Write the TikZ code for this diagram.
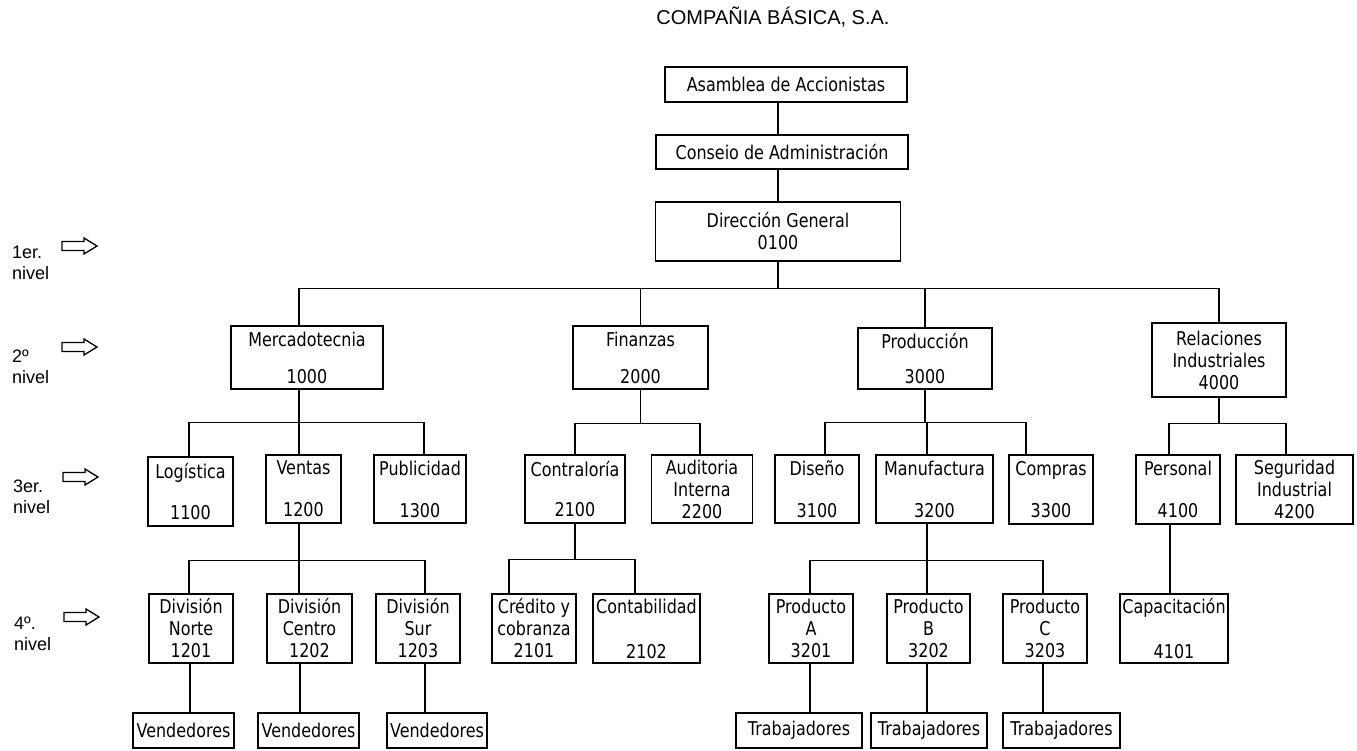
\documentclass[tikz,border=0pt]{standalone}
\usepackage{fontspec}
\usetikzlibrary{calc}
\newfontfamily\boxfont[FakeStretch=0.84]{DejaVu Sans}
\newfontfamily\labelfont{Liberation Sans}
\tikzset{
  orgbox/.style={draw, line width=1.4pt, inner sep=0pt, align=center,
    font=\boxfont\fontsize{19}{22}\selectfont, text=black},
  link/.style={line width=1.4pt},
  levelarrow/.style={draw, line width=1.3pt, line join=miter},
  leveltext/.style={anchor=north west, align=left, inner sep=0pt,
    font=\labelfont\fontsize{18}{21}\selectfont, text=black},
}
% hollow block arrow pointing right, centred on a named coordinate
\newcommand\hollowarrow[1]{\draw[levelarrow] (#1) ++(-17.5,-4.5) -- ++(22,0) -- ++(0,-3.5)
  -- ++(13,8) -- ++(-13,8) -- ++(0,-3.5) -- ++(-22,0) -- cycle;}

\begin{document}
\begin{tikzpicture}[x=1pt,y=-1pt]
\fill[white] (0,0) rectangle (1357,750);
\useasboundingbox (0,0) rectangle (1357,750);

% title
\node[anchor=base, inner sep=0pt, font=\labelfont\fontsize{20}{24}\selectfont, text=black]
  (title) at (773,24) {COMPAÑIA BÁSICA, S.A.};

% level markers
\node[leveltext] (l1) at (12,246) {1er.\\nivel};
\node[leveltext] (l2) at (12,350) {2º\\nivel};
\node[leveltext] (l3) at (13,480) {3er.\\nivel};
\node[leveltext] (l4) at (14,617) {4º.\\nivel};
\coordinate (a1) at (79.5,246);
\coordinate (a2) at (79.5,347);
\coordinate (a3) at (80.5,477);
\coordinate (a4) at (81.5,617);
\hollowarrow{a1}
\hollowarrow{a2}
\hollowarrow{a3}
\hollowarrow{a4}

% top of the organisation
\node[orgbox, minimum width=242, minimum height=35] (asam) at (786,84.5) {Asamblea de Accionistas};
\node[orgbox, minimum width=252, minimum height=34] (cons) at (782,152) {Conseio de Administración};
\node[orgbox, minimum width=245, minimum height=59] (dir) at (778,231.5) {Dirección General\\0100};

% second level
\node[orgbox, minimum width=152, minimum height=63] (merc) at (307,357.5) {Mercadotecnia\\[15pt]1000};
\node[orgbox, minimum width=135, minimum height=63] (fin) at (640.5,357.5) {Finanzas\\[15pt]2000};
\node[orgbox, minimum width=134, minimum height=61] (prod) at (925,358.5) {Producción\\[13pt]3000};
\node[orgbox, minimum width=134, minimum height=74] (rel) at (1219,360) {Relaciones\\Industriales\\4000};

% third level
\node[orgbox, minimum width=85, minimum height=69] (logi) at (190.5,491.5) {Logística\\[19pt]1100};
\node[orgbox, minimum width=75, minimum height=68] (vent) at (303.5,489) {Ventas\\[20pt]1200};
\node[orgbox, minimum width=92, minimum height=68] (publ) at (420,489) {Publicidad\\[20pt]1300};
\node[orgbox, minimum width=100, minimum height=68] (contr) at (575,489) {Contraloría\\[18pt]2100};
\node[orgbox, minimum width=101, minimum height=68] (audi) at (702,489) {Auditoria\\Interna\\2200};
\node[orgbox, minimum width=84, minimum height=68] (dise) at (817,489) {Diseño\\[20pt]3100};
\node[orgbox, minimum width=117, minimum height=68] (manu) at (934.5,489) {Manufactura\\[20pt]3200};
\node[orgbox, minimum width=84, minimum height=69] (comp) at (1051,489.5) {Compras\\[20pt]3300};
\node[orgbox, minimum width=84, minimum height=69] (pers) at (1178,489.5) {Personal\\[20pt]4100};
\node[orgbox, minimum width=117, minimum height=69] (segu) at (1294.5,489.5) {Seguridad\\Industrial\\4200};

% fourth level
\node[orgbox, minimum width=84, minimum height=69] (dnor) at (191,628.5) {División\\Norte\\1201};
\node[orgbox, minimum width=85, minimum height=69] (dcen) at (309.5,628.5) {División\\Centro\\1202};
\node[orgbox, minimum width=84, minimum height=69] (dsur) at (418,628.5) {División\\Sur\\1203};
\node[orgbox, minimum width=84, minimum height=69] (cred) at (534,628.5) {Crédito y\\cobranza\\2101};
\node[orgbox, minimum width=107, minimum height=69] (cont) at (646.5,628.5) {Contabilidad\\[23pt]2102};
\node[orgbox, minimum width=84, minimum height=69] (pa) at (811,628.5) {Producto\\A\\3201};
\node[orgbox, minimum width=83, minimum height=69] (pb) at (928.5,628.5) {Producto\\B\\3202};
\node[orgbox, minimum width=84, minimum height=69] (pc) at (1045,628.5) {Producto\\C\\3203};
\node[orgbox, minimum width=108, minimum height=69] (capa) at (1174,628.5) {Capacitación\\[23pt]4101};

% staff
\node[orgbox, minimum width=101, minimum height=35] (v1) at (183.5,730.5) {Vendedores};
\node[orgbox, minimum width=101, minimum height=35] (v2) at (308.5,730.5) {Vendedores};
\node[orgbox, minimum width=100, minimum height=35] (v3) at (437,730.5) {Vendedores};
\node[orgbox, minimum width=126, minimum height=35] (t1) at (799,730.5) {Trabajadores};
\node[orgbox, minimum width=116, minimum height=35] (t2) at (929,730.5) {Trabajadores};
\node[orgbox, minimum width=117, minimum height=35] (t3) at (1061.5,730.5) {Trabajadores};

% connectors: top chain
\draw[link] (dir.north) -- (dir.north |- cons.south);
\draw[link] (dir.north |- cons.north) -- (dir.north |- asam.south);

% general management to departments
\coordinate (b1) at ($(dir.south)+(0,27)$);
\draw[link] (dir.south) -- (b1);
\draw[link] ([xshift=-8]merc.north) |- (rel.north |- b1) -- (rel.north);
\draw[link] (fin.north) -- (fin.north |- b1);
\draw[link] (prod.north) -- (prod.north |- b1);

% marketing
\coordinate (bm) at ($([xshift=-8]merc.south)+(0,33)$);
\draw[link] ([xshift=-8]merc.south) -- (bm);
\draw[link] ([xshift=-1.5]logi.north) |- ([xshift=4]publ.north |- bm) -- ([xshift=4]publ.north);
\draw[link] ([xshift=-4.5]vent.north) -- ([xshift=-4.5]vent.north |- bm);

% finance
\coordinate (bf) at ($(fin.south)+(0,34)$);
\draw[link] (fin.south) -- (bf);
\draw[link] (contr.north) |- ([xshift=-2]audi.north |- bf) -- ([xshift=-2]audi.north);

% production
\coordinate (bp) at ($(prod.south)+(0,33)$);
\draw[link] (prod.south) -- (bp);
\draw[link] ([xshift=8]dise.north) |- ([xshift=-25]comp.north |- bp) -- ([xshift=-25]comp.north);
\draw[link] ([xshift=-7.5]manu.north) -- ([xshift=-7.5]manu.north |- bp);

% industrial relations
\coordinate (br) at ($(rel.south)+(0,26)$);
\draw[link] (rel.south) -- (br);
\draw[link] ([xshift=-9]pers.north) |- ([xshift=-8.5]segu.north |- br) -- ([xshift=-8.5]segu.north);

% sales divisions
\coordinate (bv) at ($([xshift=-4.5]vent.south)+(0,37)$);
\draw[link] ([xshift=-4.5]vent.south) -- (bv);
\draw[link] ([xshift=-2]dnor.north) |- ([xshift=7]dsur.north |- bv) -- ([xshift=7]dsur.north);
\draw[link] ([xshift=-10.5]dcen.north) -- ([xshift=-10.5]dcen.north |- bv);

% comptroller
\coordinate (bc) at ($(contr.south)+(0,36)$);
\draw[link] (contr.south) -- (bc);
\draw[link] ([xshift=-25]cred.north) |- ([xshift=-11.5]cont.north |- bc) -- ([xshift=-11.5]cont.north);

% manufacturing
\coordinate (bn) at ($([xshift=-7.5]manu.south)+(0,37)$);
\draw[link] ([xshift=-7.5]manu.south) -- (bn);
\draw[link] ([xshift=-1]pa.north) |- ([xshift=-2]pc.north |- bn) -- ([xshift=-2]pc.north);
\draw[link] ([xshift=-1.5]pb.north) -- ([xshift=-1.5]pb.north |- bn);

% personnel
\draw[link] ([xshift=-8]pers.south) -- ([xshift=-8]pers.south |- capa.north);

% staff links
\draw[link] ([xshift=-1]dnor.south) -- ([xshift=-1]dnor.south |- v1.north);
\draw[link] ([xshift=-9.5]dcen.south) -- ([xshift=-9.5]dcen.south |- v2.north);
\draw[link] ([xshift=7]dsur.south) -- ([xshift=7]dsur.south |- v3.north);
\draw[link] ([xshift=-1]pa.south) -- ([xshift=-1]pa.south |- t1.north);
\draw[link] ([xshift=-1.5]pb.south) -- ([xshift=-1.5]pb.south |- t2.north);
\draw[link] ([xshift=-2]pc.south) -- ([xshift=-2]pc.south |- t3.north);
\end{tikzpicture}
\end{document}
